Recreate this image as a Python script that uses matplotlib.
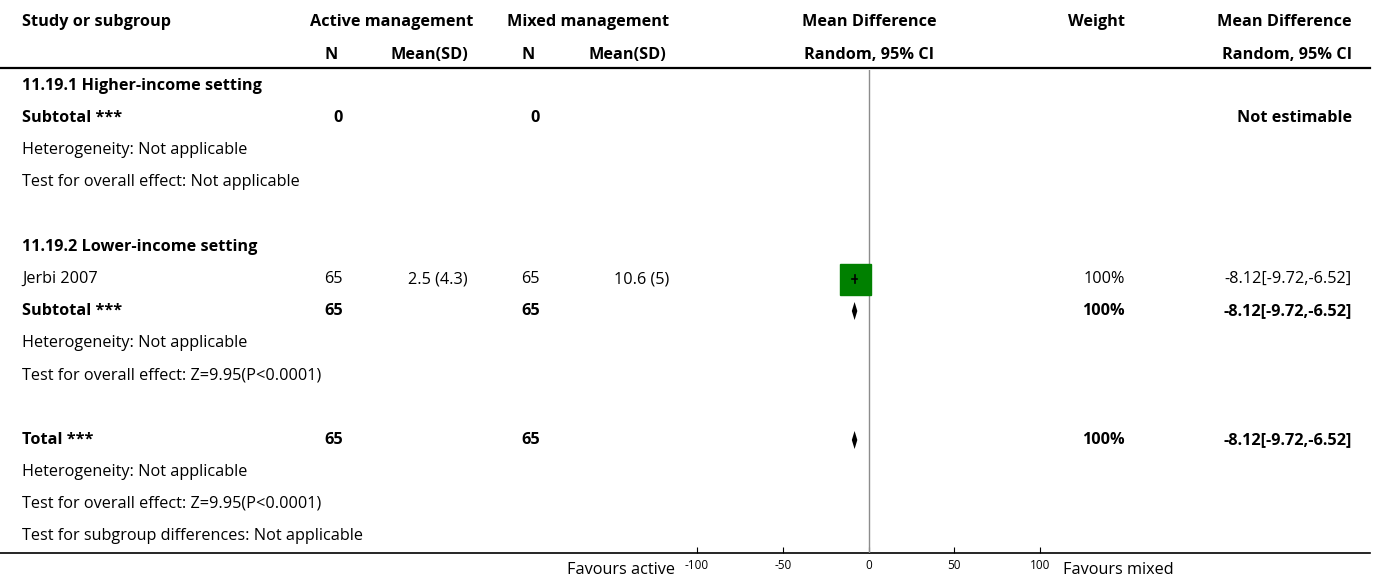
import matplotlib
matplotlib.use("Agg")
import matplotlib.pyplot as plt
from matplotlib.patches import Polygon

plt.rcParams['font.family'] = ['Open Sans', 'DejaVu Sans']

# ---- data ----
studies = ["Jerbi 2007"]
act_n = [65]
act_mean_sd = ["2.5 (4.3)"]
mix_n = [65]
mix_mean_sd = ["10.6 (5)"]
md = [-8.12]
md_lo = [-9.72]
md_hi = [-6.52]
weights = [100]

sub_labels = ["11.19.1 Higher-income setting", "11.19.2 Lower-income setting"]
sub_act_n = [0, 65]
sub_mix_n = [0, 65]
sub_md = [None, -8.12]
sub_lo = [None, -9.72]
sub_hi = [None, -6.52]
sub_weight = [None, 100]
sub_het = ["Heterogeneity: Not applicable", "Heterogeneity: Not applicable"]
sub_test = ["Test for overall effect: Not applicable",
            "Test for overall effect: Z=9.95(P<0.0001)"]

tot_act_n = 65
tot_mix_n = 65
tot_md, tot_lo, tot_hi = -8.12, -9.72, -6.52
tot_weight = 100
tot_het = "Heterogeneity: Not applicable"
tot_test = "Test for overall effect: Z=9.95(P<0.0001)"
subgroup_test = "Test for subgroup differences: Not applicable"

xticks = [-100, -50, 0, 50, 100]
left_label = "Favours active"
right_label = "Favours mixed"

# ---- layout ----
W, H = 1375, 583
fig = plt.figure(figsize=(W / 100, H / 100), dpi=100)
ax = fig.add_axes([0, 0, 1, 1])
ax.set_xlim(0, W)
ax.set_ylim(H, 0)
ax.axis("off")

FS = 11.7
X_STUDY = 22
X_ACT_N = 343
X_ACT_M = 468
X_MIX_N = 540
X_MIX_M = 669
X_W = 1125
X_CI = 1352
PX0, PX1 = 697, 1040
Y_TOP, Y_BOT = 70, 553

def txt(x, y, s, ha="left", bold=False, size=FS, color="black"):
    ax.text(x, y, s, ha=ha, va="center", fontsize=size,
            fontweight="bold" if bold else "normal", color=color)

# header
txt(X_STUDY, 22, "Study or subgroup", bold=True)
txt(392, 22, "Active management", ha="center", bold=True)
txt(588, 22, "Mixed management", ha="center", bold=True)
txt(869, 22, "Mean Difference", ha="center", bold=True)
txt(X_W, 22, "Weight", ha="right", bold=True)
txt(X_CI, 22, "Mean Difference", ha="right", bold=True)
txt(331, 55, "N", ha="center", bold=True)
txt(X_ACT_M, 55, "Mean(SD)", ha="right", bold=True)
txt(528, 55, "N", ha="center", bold=True)
txt(666, 55, "Mean(SD)", ha="right", bold=True)
txt(869, 55, "Random, 95% CI", ha="center", bold=True)
txt(X_CI, 55, "Random, 95% CI", ha="right", bold=True)
ax.plot([0, 1370], [68, 68], color="black", lw=1.6)
ax.plot([0, 1370], [Y_BOT, Y_BOT], color="black", lw=1.2)

# forest panel sharing the pixel rows
fax = fig.add_axes([PX0 / W, (H - Y_BOT) / H, (PX1 - PX0) / W, (Y_BOT - Y_TOP) / H])
fax.set_xlim(-100, 100)
fax.set_ylim(Y_BOT, Y_TOP)
fax.patch.set_visible(False)
for s in fax.spines.values():
    s.set_visible(False)
fax.set_yticks([])
fax.set_xticks(xticks)
fax.set_xticklabels([str(t) for t in xticks], fontsize=8.5)
fax.tick_params(axis="x", direction="in", length=4, width=0.8, pad=4)
fax.axvline(0, color="#8c8c8c", lw=1.0)

def diamond(y, m, lo, hi, h=9):
    fax.add_patch(Polygon([(lo, y), (m, y - h), (hi, y), (m, y + h)],
                          closed=True, color="black", lw=0))

rows_sub = [[86, 118, 150, 182], [247, 311, 343, 375]]
study_rows = [[], [279]]

for g in range(2):
    yl, ys, yh, yt = rows_sub[g]
    txt(X_STUDY, yl, sub_labels[g], bold=True)
    for k, yy in enumerate(study_rows[g]):
        i = k
        txt(X_STUDY, yy, studies[i])
        txt(X_ACT_N, yy, str(act_n[i]), ha="right")
        txt(X_ACT_M, yy, act_mean_sd[i], ha="right")
        txt(X_MIX_N, yy, str(mix_n[i]), ha="right")
        txt(X_MIX_M, yy, mix_mean_sd[i], ha="right")
        txt(X_W, yy, f"{weights[i]}%", ha="right")
        txt(X_CI, yy, f"{md[i]:.2f}[{md_lo[i]:.2f},{md_hi[i]:.2f}]", ha="right")
        side = 31 * weights[i] / 100.0
        fax.plot([md[i]], [yy], marker="s", ms=side * 0.72, color="#008000",
                 mec="#008000", lw=0)
        fax.plot([md_lo[i], md_hi[i]], [yy, yy], color="black", lw=1.2)
        fax.plot([md[i], md[i]], [yy - 4, yy + 4], color="black", lw=1.2)
    txt(X_STUDY, ys, "Subtotal ***", bold=True)
    txt(X_ACT_N, ys, str(sub_act_n[g]), ha="right", bold=True)
    txt(X_MIX_N, ys, str(sub_mix_n[g]), ha="right", bold=True)
    if sub_md[g] is None:
        txt(X_CI, ys, "Not estimable", ha="right", bold=True)
    else:
        txt(X_W, ys, f"{sub_weight[g]}%", ha="right", bold=True)
        txt(X_CI, ys, f"{sub_md[g]:.2f}[{sub_lo[g]:.2f},{sub_hi[g]:.2f}]",
            ha="right", bold=True)
        diamond(ys, sub_md[g], sub_lo[g], sub_hi[g])
    txt(X_STUDY, yh, sub_het[g])
    txt(X_STUDY, yt, sub_test[g])

# overall
YT = 440
txt(X_STUDY, YT, "Total ***", bold=True)
txt(X_ACT_N, YT, str(tot_act_n), ha="right", bold=True)
txt(X_MIX_N, YT, str(tot_mix_n), ha="right", bold=True)
txt(X_W, YT, f"{tot_weight}%", ha="right", bold=True)
txt(X_CI, YT, f"{tot_md:.2f}[{tot_lo:.2f},{tot_hi:.2f}]", ha="right", bold=True)
diamond(YT, tot_md, tot_lo, tot_hi)
txt(X_STUDY, 472, tot_het)
txt(X_STUDY, 504, tot_test)
txt(X_STUDY, 536, subgroup_test)

txt(675, 570, left_label, ha="right")
txt(1063, 570, right_label, ha="left")

fig.savefig("out.png", dpi=100)
